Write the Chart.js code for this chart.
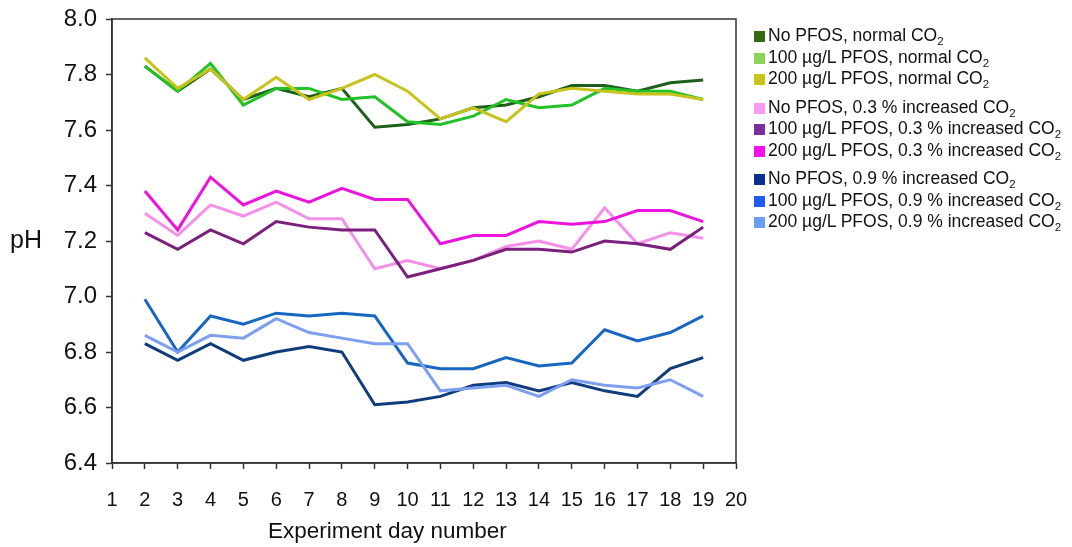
<!DOCTYPE html>
<html>
<head>
<meta charset="utf-8">
<title>pH by experiment day</title>
<script src="https://cdn.jsdelivr.net/npm/chart.js@4.4.0/dist/chart.umd.min.js"></script>
<style>
  html, body { margin: 0; padding: 0; background: #fff; }
  #wrap { position: relative; width: 1072px; height: 547px; font-family: "Liberation Sans", Arial, sans-serif; color: #111; }
  #phLabel { position: absolute; left: 10px; top: 225px; font-size: 25px; }
  #xTitle { position: absolute; left: 268px; top: 518px; font-size: 22.5px; white-space: nowrap; }
  #legend { position: absolute; left: 754px; top: 25px; font-size: 17.5px; }
  #legend .group { margin-bottom: 7px; }
  #legend .item { height: 21.5px; line-height: 21.5px; white-space: nowrap; }
  #legend .swatch { display: inline-block; width: 11px; height: 11px; margin-right: 3px; vertical-align: -1px; }
  #legend sub { font-size: 11.5px; vertical-align: -4px; line-height: 0; }
</style>
</head>
<body>
<div id="wrap">
  <canvas id="phChart" width="1072" height="547"></canvas>
  <div id="phLabel">pH</div>
  <div id="xTitle">Experiment day number</div>
  <div id="legend"></div>
</div>
<script>
  // Measurement days and y-axis ticks
  const days = [2, 3, 4, 5, 6, 7, 8, 9, 10, 11, 12, 13, 14, 15, 16, 17, 18, 19];
  const yTicks = [6.4, 6.6, 6.8, 7.0, 7.2, 7.4, 7.6, 7.8, 8.0];

  // Normal CO2
  const noPfosNormal  = [7.83, 7.74, 7.82, 7.71, 7.75, 7.72, 7.75, 7.61, 7.62, 7.64, 7.68, 7.69, 7.72, 7.76, 7.76, 7.74, 7.77, 7.78];
  const pfos100Normal = [7.83, 7.74, 7.84, 7.69, 7.75, 7.75, 7.71, 7.72, 7.63, 7.62, 7.65, 7.71, 7.68, 7.69, 7.75, 7.74, 7.74, 7.71];
  const pfos200Normal = [7.86, 7.75, 7.82, 7.71, 7.79, 7.71, 7.75, 7.80, 7.74, 7.64, 7.68, 7.63, 7.73, 7.75, 7.74, 7.73, 7.73, 7.71];

  // 0.3 % increased CO2
  const noPfos03  = [7.30, 7.22, 7.33, 7.29, 7.34, 7.28, 7.28, 7.10, 7.13, 7.10, 7.13, 7.18, 7.20, 7.17, 7.32, 7.19, 7.23, 7.21];
  const pfos100_03 = [7.23, 7.17, 7.24, 7.19, 7.27, 7.25, 7.24, 7.24, 7.07, 7.10, 7.13, 7.17, 7.17, 7.16, 7.20, 7.19, 7.17, 7.25];
  const pfos200_03 = [7.38, 7.24, 7.43, 7.33, 7.38, 7.34, 7.39, 7.35, 7.35, 7.19, 7.22, 7.22, 7.27, 7.26, 7.27, 7.31, 7.31, 7.27];

  // 0.9 % increased CO2
  const noPfos09  = [6.83, 6.77, 6.83, 6.77, 6.80, 6.82, 6.80, 6.61, 6.62, 6.64, 6.68, 6.69, 6.66, 6.69, 6.66, 6.64, 6.74, 6.78];
  const pfos100_09 = [6.99, 6.80, 6.93, 6.90, 6.94, 6.93, 6.94, 6.93, 6.76, 6.74, 6.74, 6.78, 6.75, 6.76, 6.88, 6.84, 6.87, 6.93];
  const pfos200_09 = [6.86, 6.80, 6.86, 6.85, 6.92, 6.87, 6.85, 6.83, 6.83, 6.66, 6.67, 6.68, 6.64, 6.70, 6.68, 6.67, 6.70, 6.64];

  const seriesNames = [
    ["No PFOS, normal CO", "100 µg/L PFOS, normal CO", "200 µg/L PFOS, normal CO"],
    ["No PFOS, 0.3 % increased CO", "100 µg/L PFOS, 0.3 % increased CO", "200 µg/L PFOS, 0.3 % increased CO"],
    ["No PFOS, 0.9 % increased CO", "100 µg/L PFOS, 0.9 % increased CO", "200 µg/L PFOS, 0.9 % increased CO"]
  ];
  const seriesValues = [
    [noPfosNormal, pfos100Normal, pfos200Normal],
    [noPfos03, pfos100_03, pfos200_03],
    [noPfos09, pfos100_09, pfos200_09]
  ];
  const lineColors = [
    ["#1d5e1a", "#21c224", "#c8c21c"],
    ["#f590ea", "#7a1f7c", "#ee12de"],
    ["#0f3c7c", "#1666c2", "#7c9ff0"]
  ];
  const swatchColors = [
    ["#346b12", "#8fd45a", "#c8c51a"],
    ["#f79af0", "#7a2fa0", "#f30ff0"],
    ["#0d2f8f", "#1f5bef", "#6a9ef5"]
  ];

  const datasets = [];
  seriesValues.forEach((group, g) => {
    group.forEach((vals, i) => {
      datasets.push({
        label: seriesNames[g][i] + "2",
        data: vals.map((v, k) => ({ x: days[k], y: v })),
        borderColor: lineColors[g][i],
        backgroundColor: swatchColors[g][i],
        borderWidth: 3,
        pointRadius: 0,
        tension: 0,
        fill: false
      });
    });
  });
  // later series drawn underneath earlier ones
  datasets.forEach((d, i) => { d.order = -i; });

  const FONT = "'Liberation Sans', Arial, sans-serif";

  // full box around the plot area
  const frame = {
    id: "frame",
    afterDatasetsDraw(chart) {
      const { ctx, chartArea: a } = chart;
      ctx.save();
      ctx.strokeStyle = "#333";
      ctx.lineWidth = 1.5;
      ctx.strokeRect(a.left, a.top, a.right - a.left, a.bottom - a.top);
      ctx.restore();
    }
  };

  const chart = new Chart(document.getElementById("phChart"), {
    type: "line",
    data: { datasets },
    plugins: [frame],
    options: {
      responsive: false,
      animation: false,
      layout: { padding: { left: 0, top: 19, right: 336, bottom: 0 } },
      plugins: { legend: { display: false }, tooltip: { enabled: false } },
      scales: {
        x: {
          type: "linear",
          min: 1, max: 20,
          afterFit(scale) { scale.height = 84; scale.paddingLeft = 0; scale.paddingRight = 0; },
          ticks: { stepSize: 1, color: "#111", font: { family: FONT, size: 20 }, padding: 19, maxRotation: 0, autoSkip: false },
          grid: { drawOnChartArea: false, drawTicks: true, tickLength: 6, tickColor: "#333", tickWidth: 1.5 },
          border: { color: "#333", width: 1.5 }
        },
        y: {
          min: 6.4, max: 8.0,
          afterFit(scale) { scale.width = 112; scale.paddingTop = 0; scale.paddingBottom = 0; },
          afterBuildTicks(scale) { scale.ticks = yTicks.map(v => ({ value: v })); },
          ticks: { color: "#111", font: { family: FONT, size: 24 }, padding: 9, callback: v => v.toFixed(1) },
          grid: { drawOnChartArea: false, drawTicks: true, tickLength: 6, tickColor: "#333", tickWidth: 1.5 },
          border: { color: "#333", width: 1.5 }
        }
      }
    }
  });

  // legend in three groups, CO2 with a subscript
  const legend = document.getElementById("legend");
  let idx = 0;
  seriesNames.forEach(group => {
    const gDiv = document.createElement("div");
    gDiv.className = "group";
    group.forEach(() => {
      const ds = chart.data.datasets[idx++];
      const item = document.createElement("div");
      item.className = "item";
      item.innerHTML = '<span class="swatch" style="background:' + ds.backgroundColor + '"></span>' +
        ds.label.slice(0, -1) + "<sub>2</sub>";
      gDiv.appendChild(item);
    });
    legend.appendChild(gDiv);
  });
</script>
</body>
</html>
